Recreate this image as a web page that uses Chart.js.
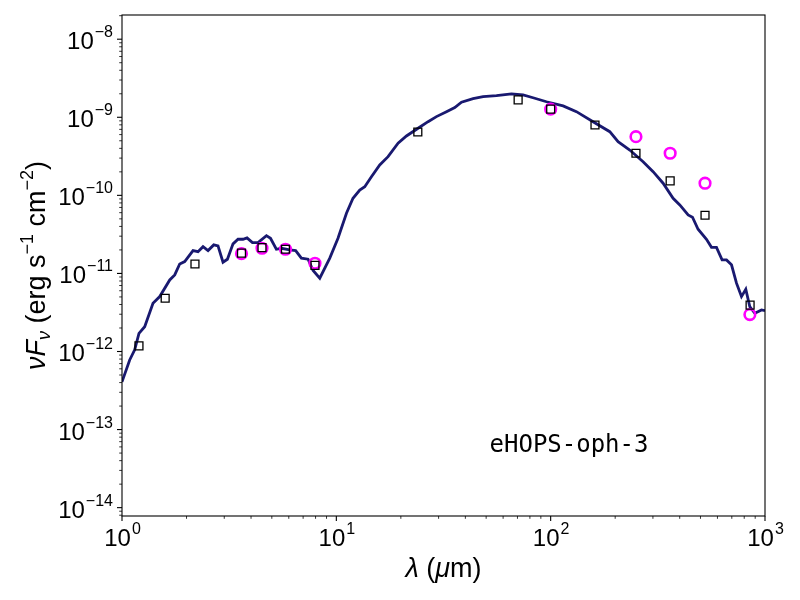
<!DOCTYPE html>
<html>
<head>
<meta charset="utf-8">
<script src="https://cdn.jsdelivr.net/npm/chart.js@4.4.1/dist/chart.umd.min.js"></script>
<style>
  html, body { margin: 0; padding: 0; background: #fff; }
  canvas { display: block; }
</style>
</head>
<body>
<canvas id="sedCanvas" width="800" height="600"></canvas>
<script>
// Modelo (línea) : longitud de onda (micras) y flujo nuFnu
const modelWave = [1.00, 1.086, 1.146, 1.20, 1.276, 1.395, 1.50, 1.67, 1.762, 1.859,
  1.961, 2.145, 2.263, 2.388, 2.52, 2.679, 2.805, 2.96, 3.103, 3.296,
  3.478, 3.669, 3.831, 4.06, 4.31, 4.72, 4.93, 5.25, 5.54, 6.06,
  6.46, 6.87, 7.38, 7.79, 8.37, 9.32, 10.18, 11.15, 11.96, 12.86,
  13.57, 14.58, 15.94, 17.43, 19.41, 21.24, 24.06, 26.79, 29.32, 32.65,
  35.69, 38.36, 43.45, 48.37, 55.86, 65.63, 74.32, 82.78, 95.59, 114.3,
  131.9, 157.7, 188.7, 206.3, 233.9, 269.9, 300.6, 334.6, 372.6, 400.4,
  437.8, 458.9, 487.3, 533.3, 562.7, 593.8, 630.7, 661.2, 697.8, 736.2,
  776.7, 813.5, 849.2, 896.3, 963, 1000];
const modelFlux = [4.08e-13, 7.80e-13, 1.05e-12, 1.71e-12, 2.08e-12, 4.15e-12, 5.05e-12, 8.26e-12, 9.57e-12, 1.32e-11,
  1.42e-11, 1.96e-11, 1.90e-11, 2.20e-11, 1.96e-11, 2.32e-11, 2.25e-11, 1.39e-11, 1.52e-11, 2.39e-11,
  2.74e-11, 2.74e-11, 2.85e-11, 2.48e-11, 2.48e-11, 3.05e-11, 2.82e-11, 2.04e-11, 2.10e-11, 2.00e-11,
  1.96e-11, 1.57e-11, 1.52e-11, 1.09e-11, 8.69e-12, 1.57e-11, 2.82e-11, 5.90e-11, 9.18e-11, 1.17e-10,
  1.29e-10, 1.73e-10, 2.45e-10, 3.13e-10, 4.65e-10, 5.76e-10, 7.23e-10, 8.78e-10, 1.02e-9, 1.18e-9,
  1.33e-9, 1.56e-9, 1.73e-9, 1.84e-9, 1.89e-9, 1.99e-9, 1.93e-9, 1.78e-9, 1.58e-9, 1.40e-9,
  1.18e-9, 8.78e-10, 6.54e-10, 4.87e-10, 3.81e-10, 2.70e-10, 2.01e-10, 1.43e-10, 9.18e-11, 7.53e-11,
  5.61e-11, 5.25e-11, 3.68e-11, 2.74e-11, 2.16e-11, 2.16e-11, 1.49e-11, 1.49e-11, 1.29e-11, 7.50e-12,
  5.05e-12, 6.28e-12, 3.76e-12, 3.09e-12, 3.41e-12, 3.34e-12];

// Fotometría (cuadrados negros)
const photWave = [1.20, 1.59, 2.19, 3.61, 4.50, 5.79, 7.95, 24.0, 70.5, 100, 161, 250, 361, 525, 852];
const photFlux = [1.18e-12, 4.81e-12, 1.32e-11, 1.82e-11, 2.14e-11, 2.04e-11, 1.27e-11,
  6.48e-10, 1.67e-9, 1.27e-9, 7.96e-10, 3.46e-10, 1.53e-10, 5.56e-11, 3.92e-12];

// Fotometría (círculos magenta)
const circWave = [3.61, 4.50, 5.79, 7.95, 100, 250, 361, 525, 850];
const circFlux = [1.79e-11, 2.10e-11, 2.04e-11, 1.35e-11, 1.27e-9, 5.65e-10, 3.46e-10, 1.43e-10, 2.97e-12];

// Etiquetas de los ejes (exponentes de las décadas)
const xTickExp = [0, 1, 2, 3];
const yTickExp = [-14, -13, -12, -11, -10, -9, -8];
const sourceName = 'eHOPS-oph-3';

const xMin = 1, xMax = 1000;
const yMin = Math.pow(10, -14.107), yMax = Math.pow(10, -7.69);

function toPoints(xs, ys) {
  return xs.map((v, i) => ({ x: v, y: ys[i] }));
}

const SANS = '"Liberation Sans", Arial, Helvetica, sans-serif';
const MINUS = '\u2212';

// Dibuja "10" con exponente
function drawPow(ctx, exp, x, y, align) {
  const base = '10', sup = String(exp).replace('-', MINUS);
  ctx.font = '24px ' + SANS;
  const wb = ctx.measureText(base).width;
  ctx.font = '16px ' + SANS;
  const ws = ctx.measureText(sup).width;
  const total = wb + ws;
  let x0 = align === 'right' ? x - total : x - total / 2;
  ctx.textAlign = 'left';
  ctx.textBaseline = 'alphabetic';
  ctx.font = '24px ' + SANS;
  ctx.fillText(base, x0, y);
  ctx.font = '16px ' + SANS;
  ctx.fillText(sup, x0 + wb + 1, y - 12);
}

// Dibuja texto con tramos (cursiva, sub/superíndices) centrado
function drawRuns(ctx, runs, x, y) {
  let total = 0;
  runs.forEach(r => { ctx.font = r.font; r.w = ctx.measureText(r.t).width; total += r.w; });
  let cx = x - total / 2;
  ctx.textAlign = 'left';
  ctx.textBaseline = 'alphabetic';
  runs.forEach(r => {
    ctx.font = r.font;
    ctx.fillText(r.t, cx, y + (r.dy || 0));
    cx += r.w;
  });
}

const framePlugin = {
  id: 'framePlugin',
  afterDraw(chart) {
    const { ctx, chartArea: a, scales } = chart;
    const xs = scales.x, ys = scales.y;
    ctx.save();
    ctx.strokeStyle = '#000';
    ctx.fillStyle = '#000';

    // marcas de los ejes (hacia afuera)
    function tick(px, py, dx, dy, w) {
      ctx.lineWidth = w;
      ctx.beginPath();
      ctx.moveTo(px, py);
      ctx.lineTo(px + dx, py + dy);
      ctx.stroke();
    }
    for (let d = -1; d <= 3; d++) {
      for (let m = 1; m <= 9; m++) {
        const v = m * Math.pow(10, d);
        if (v < xMin - 1e-9 || v > xMax + 1e-6) continue;
        const px = xs.getPixelForValue(v);
        if (m === 1) tick(px, a.bottom, 0, 5, 1.1);
        else tick(px, a.bottom, 0, 2.8, 0.8);
      }
    }
    for (let d = -15; d <= -7; d++) {
      for (let m = 1; m <= 9; m++) {
        const v = m * Math.pow(10, d);
        if (v < yMin || v > yMax) continue;
        const py = ys.getPixelForValue(v);
        if (m === 1) tick(a.left, py, -5, 0, 1.1);
        else tick(a.left, py, -2.8, 0, 0.8);
      }
    }

    // marco
    ctx.lineWidth = 1.1;
    ctx.strokeRect(a.left, a.top, a.right - a.left, a.bottom - a.top);

    // etiquetas
    xTickExp.forEach(e => drawPow(ctx, e, xs.getPixelForValue(Math.pow(10, e)), a.bottom + 30, 'center'));
    yTickExp.forEach(e => drawPow(ctx, e, a.left - 10, ys.getPixelForValue(Math.pow(10, e)) + 10, 'right'));

    // título eje x
    const f = '27px ' + SANS, fi = 'italic 27px ' + SANS, fs = '18px ' + SANS, fsi = 'italic 18px ' + SANS;
    drawRuns(ctx, [
      { t: '\u03bb', font: fi },
      { t: ' (', font: f },
      { t: '\u03bc', font: fi },
      { t: 'm)', font: f }
    ], (a.left + a.right) / 2, 577);

    // título eje y
    ctx.save();
    ctx.translate(45, (a.top + a.bottom) / 2);
    ctx.rotate(-Math.PI / 2);
    drawRuns(ctx, [
      { t: '\u03bd', font: fi },
      { t: 'F', font: fi },
      { t: '\u03bd', font: fsi, dy: 5 },
      { t: ' (erg s', font: f },
      { t: MINUS + '1', font: fs, dy: -12 },
      { t: ' cm', font: f },
      { t: MINUS + '2', font: fs, dy: -12 },
      { t: ')', font: f }
    ], 0, 0);
    ctx.restore();

    // nombre de la fuente
    ctx.font = '24px "DejaVu Sans Mono", monospace';
    ctx.textAlign = 'center';
    ctx.textBaseline = 'alphabetic';
    ctx.fillText(sourceName, 569, 452);

    ctx.restore();
  }
};

const ctx = document.getElementById('sedCanvas').getContext('2d');
const sedChart = new Chart(ctx, {
  type: 'line',
  data: {
    datasets: [
      {
        label: 'phot',
        data: toPoints(photWave, photFlux),
        showLine: false,
        pointStyle: 'rect',
        pointRadius: 5.6,
        pointBorderWidth: 1.3,
        pointBorderColor: '#000000',
        pointBackgroundColor: 'rgba(0,0,0,0)',
        order: 0
      },
      {
        label: 'circ',
        data: toPoints(circWave, circFlux),
        showLine: false,
        pointStyle: 'circle',
        pointRadius: 5.3,
        pointBorderWidth: 2.6,
        pointBorderColor: '#ff00ff',
        pointBackgroundColor: 'rgba(0,0,0,0)',
        order: 1
      },
      {
        label: 'model',
        data: toPoints(modelWave, modelFlux),
        borderColor: '#191970',
        borderWidth: 2.8,
        pointRadius: 0,
        tension: 0,
        fill: false,
        order: 2
      }
    ]
  },
  options: {
    responsive: false,
    animation: false,
    devicePixelRatio: 1,
    parsing: false,
    layout: { padding: { left: 122, top: 15, right: 35, bottom: 84 } },
    plugins: { legend: { display: false }, tooltip: { enabled: false } },
    scales: {
      x: {
        type: 'logarithmic', min: xMin, max: xMax,
        grid: { display: false }, border: { display: false },
        ticks: { display: false },
        afterFit: s => { s.height = 0; }
      },
      y: {
        type: 'logarithmic', min: yMin, max: yMax,
        grid: { display: false }, border: { display: false },
        ticks: { display: false },
        afterFit: s => { s.width = 0; }
      }
    }
  },
  plugins: [framePlugin]
});
</script>
</body>
</html>
